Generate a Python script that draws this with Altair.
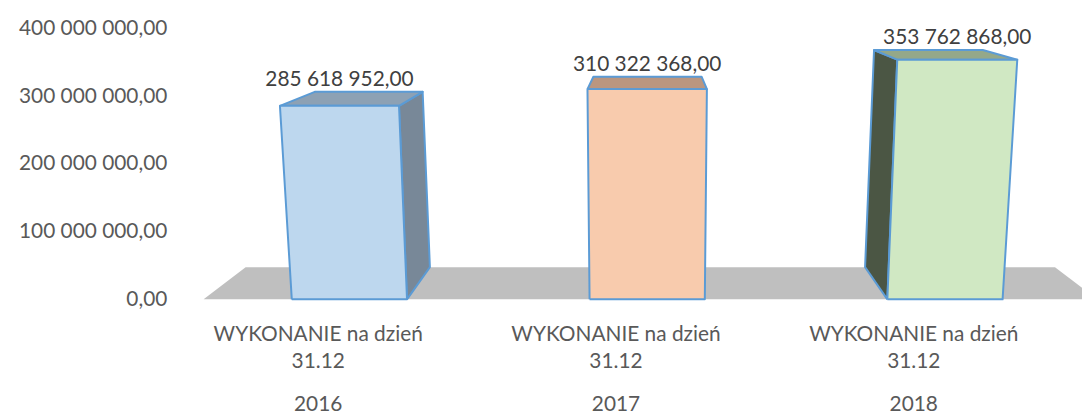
import altair as alt
import pandas as pd

# ---- data ----
categories = ["WYKONANIE na dzień", "WYKONANIE na dzień", "WYKONANIE na dzień"]
dates = ["31.12", "31.12", "31.12"]
years = ["2016", "2017", "2018"]
values = [285618952.00, 310322368.00, 353762868.00]

# ---- styles ----
front_colors = ["#BDD7EE", "#F8CBAD", "#D0E8C3"]
side_colors = ["#788898", "#B89482", "#4B5644"]
top_colors = ["#8DA1B4", "#BA9680", "#94A889"]
floor_color = "#BFBFBF"
edge_color = "#5B9BD5"
FONT = "Lato"

# ---- geometry of the fake 3-D view (in data units) ----
Y_MAX = 400_000_000
PLOT_W, PLOT_H = 900, 273
PX_V = PLOT_H / Y_MAX
BAR_L, BAR_R = 0.413, 0.80        # bar front face, relative to category start
VP_U = 1.617                       # vanishing point (x units)
VP_V = 345 / PX_V                  # vanishing point height (value units)
DEPTH = 0.094                      # depth fraction toward vanishing point
LEAN_C, LEAN_K = 1.607, 1.71e-4    # widening of the front plane with height
FLOOR_L, FLOOR_R = 0.117, 3.117


def front(u, v):
    return (u + (u - LEAN_C) * LEAN_K * v * PX_V, v)


def back(p):
    u, v = p
    return (u + DEPTH * (VP_U - u), v + DEPTH * (VP_V - v))


def poly_rows(rows, pid, pts, fill):
    pts = list(pts) + [pts[0]]
    for k, (u, v) in enumerate(pts):
        rows.append({"poly": pid, "ord": k, "u": u, "v": v, "fill": fill})


floor_rows, side_rows, top_rows, front_rows, label_rows = [], [], [], [], []

f0, f1 = (FLOOR_L, 0.0), (FLOOR_R, 0.0)
poly_rows(floor_rows, "floor", [f0, f1, back(f1), back(f0)], floor_color)

for i, val in enumerate(values):
    u0, u1 = i + BAR_L, i + BAR_R
    FL0, FR0 = front(u0, 0.0), front(u1, 0.0)
    FLv, FRv = front(u0, val), front(u1, val)
    poly_rows(front_rows, f"f{i}", [FL0, FR0, FRv, FLv], front_colors[i])
    poly_rows(top_rows, f"t{i}", [FLv, FRv, back(FRv), back(FLv)], top_colors[i])
    if FR0[0] < VP_U:
        poly_rows(side_rows, f"sr{i}", [FR0, back(FR0), back(FRv), FRv], side_colors[i])
    if FL0[0] > VP_U:
        poly_rows(side_rows, f"sl{i}", [FL0, FLv, back(FLv), back(FL0)], side_colors[i])
    label_rows.append({"u": (FLv[0] + FRv[0]) / 2, "v": back(FLv)[1], "value": val})

x_scale = alt.Scale(domain=[0, 3], nice=False, zero=False)
y_scale = alt.Scale(domain=[0, Y_MAX], nice=False, zero=True)


def arr(lst):
    return "[" + ",".join("'" + s + "'" for s in lst) + "]"


cat_expr = f"[{arr(categories)}[floor(datum.value)], {arr(dates)}[floor(datum.value)]]"
year_expr = f"{arr(years)}[floor(datum.value)]"

common_x = dict(
    values=[0.5, 1.5, 2.5], title=None, domain=False, ticks=False, grid=False,
    labelFont=FONT, labelFontSize=21, labelColor="#595959", labelAngle=0,
    labelLimit=0, orient="bottom",
)
x_axis = alt.Axis(labelExpr=cat_expr, labelLineHeight=28, labelPadding=24, **common_x)
year_axis = alt.Axis(labelExpr=year_expr, labelPadding=95, **common_x)

y_axis = alt.Axis(
    values=[0, 100_000_000, 200_000_000, 300_000_000, 400_000_000], format=",.2f",
    title=None, domain=False, ticks=False, grid=False, labelFont=FONT, labelFontSize=21,
    labelColor="#595959", labelPadding=2,
)

Y = alt.Y("v:Q", scale=y_scale, axis=y_axis)


def poly_layer(rows, stroke, axis=None):
    if stroke:
        mark = alt.Chart(pd.DataFrame(rows)).mark_line(
            strokeWidth=2, stroke=edge_color, strokeJoin="round")
    else:
        mark = alt.Chart(pd.DataFrame(rows)).mark_line(strokeWidth=0)
    return mark.encode(
        x=alt.X("u:Q", scale=x_scale, axis=axis),
        y=Y,
        fill=alt.Fill("fill:N", scale=None),
        detail="poly:N",
        order="ord:Q",
    )


floor = poly_layer(floor_rows, False, axis=x_axis)
sides = poly_layer(side_rows, True)
tops = poly_layer(top_rows, True)
fronts = poly_layer(front_rows, True)

labels = alt.Chart(pd.DataFrame(label_rows)).mark_text(
    font=FONT, fontSize=21, color="#404040", baseline="alphabetic", dy=-6,
).encode(
    x=alt.X("u:Q", scale=x_scale, axis=year_axis),
    y=Y,
    text=alt.Text("value:Q", format=",.2f"),
)

chart = alt.layer(floor, sides, tops, fronts, labels).resolve_axis(
    x="independent"
).properties(
    width=PLOT_W, height=PLOT_H,
    autosize=alt.AutoSizeParams(type="none"),
    padding={"left": 162, "top": 19, "right": 20, "bottom": 118},
).configure(
    locale=alt.Locale(number=alt.NumberLocale(
        decimal=",", thousands=" ", grouping=[3], currency=["", ""])),
    view=alt.ViewConfig(strokeWidth=0),
)

chart.save("out.html", embed_options={"renderer": "svg", "actions": False})
